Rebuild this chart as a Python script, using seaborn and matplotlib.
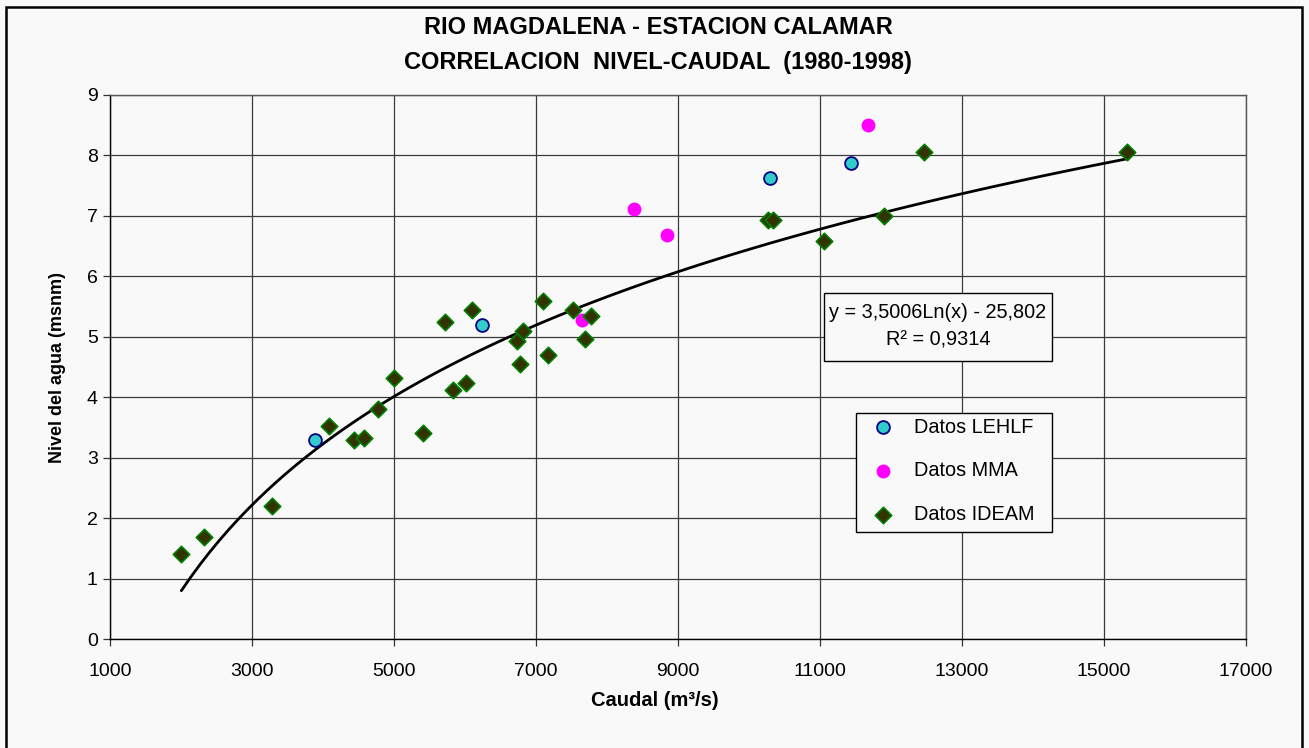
import numpy as np
import pandas as pd
import seaborn as sns
import matplotlib.pyplot as plt
from matplotlib.patches import Rectangle

# Datos IDEAM (caudal m3/s, nivel msnm)
ideam_q = [2000, 2320, 3280, 4080, 4430, 4570, 4770, 5000, 5400, 5720, 5830, 6010, 6100, 6730,
           6770, 6820, 7100, 7160, 7520, 7690, 7770, 10260, 10340, 11060, 11900, 12460, 15320]
ideam_h = [1.40, 1.68, 2.20, 3.52, 3.30, 3.32, 3.80, 4.32, 3.40, 5.24, 4.12, 4.24, 5.45, 4.93,
           4.55, 5.10, 5.60, 4.70, 5.45, 4.96, 5.35, 6.94, 6.94, 6.58, 7.00, 8.06, 8.06]

# Datos LEHLF
lehlf_q = [3880, 6240, 10300, 11440]
lehlf_h = [3.30, 5.20, 7.62, 7.87]

# Datos MMA
mma_q = [7650, 8380, 8840, 11680]
mma_h = [5.28, 7.12, 6.68, 8.50]

x_ticks = [1000, 3000, 5000, 7000, 9000, 11000, 13000, 15000, 17000]
y_ticks = [0, 1, 2, 3, 4, 5, 6, 7, 8, 9]

eq_text = 'y = 3,5006Ln(x) - 25,802\nR\u00b2 = 0,9314'

sns.set_style('white')
plt.rcParams['font.family'] = ['Liberation Sans', 'DejaVu Sans']
plt.rcParams['text.color'] = 'black'
plt.rcParams['xtick.color'] = 'black'
plt.rcParams['ytick.color'] = 'black'

bg = '#f9f9f9'
W, H = 1309, 748
fig = plt.figure(figsize=(13.09, 7.48), dpi=100, facecolor=bg)
ax = fig.add_axes([0.0843, 0.1457, 0.8676, 0.7273])
ax.set_facecolor(bg)

# linea de tendencia logaritmica (ajuste sobre datos IDEAM)
df_ideam = pd.DataFrame({'caudal': ideam_q, 'nivel': ideam_h})
sns.regplot(data=df_ideam, x='caudal', y='nivel', logx=True, ci=None, scatter=False,
            truncate=True, line_kws=dict(color='black', lw=2.0, zorder=2), ax=ax)

sns.scatterplot(x=lehlf_q, y=lehlf_h, marker='o', s=85, color='#33cccc', edgecolor='#000080',
                linewidth=1.3, label='Datos LEHLF', ax=ax, zorder=3)
sns.scatterplot(x=mma_q, y=mma_h, marker='o', s=100, color='#ff00ff', edgecolor='#ff00ff',
                linewidth=0, label='Datos MMA', ax=ax, zorder=3)
sns.scatterplot(x=ideam_q, y=ideam_h, marker='D', s=70, color='#333300', edgecolor='#008000',
                linewidth=1.2, label='Datos IDEAM', ax=ax, zorder=4)

ax.set_xlim(1000, 17000)
ax.set_ylim(0, 9)
ax.set_xticks(x_ticks)
ax.set_yticks(y_ticks)
ax.grid(True, color='#3a3a3a', lw=0.9)
ax.set_axisbelow(True)
for s in ax.spines.values():
    s.set_color('#555555')
    s.set_linewidth(1.0)
ax.spines['left'].set_color('black')
ax.spines['bottom'].set_color('black')
ax.tick_params(axis='both', direction='out', length=5, width=0.9, color='#333333',
               labelsize=14, left=True, bottom=True)
ax.tick_params(axis='x', pad=12)
ax.tick_params(axis='y', pad=4)
ax.set_xlabel('')
ax.set_ylabel('')

# cuadro de la ecuacion de la tendencia
ax.add_patch(Rectangle((824 / W, 1 - 361 / H), 228 / W, 68 / H, transform=fig.transFigure,
                       facecolor=bg, edgecolor='black', lw=1.0, zorder=5, clip_on=False))
ax.text(938 / W, 1 - 326 / H, eq_text, transform=fig.transFigure, ha='center', va='center',
        fontsize=14.3, linespacing=1.6, zorder=6)

# cuadro de la leyenda
ax.add_patch(Rectangle((856 / W, 1 - 532 / H), 196 / W, 119 / H, transform=fig.transFigure,
                       facecolor=bg, edgecolor='black', lw=1.0, zorder=5, clip_on=False))
leg = ax.legend(loc='upper left', bbox_to_anchor=(856 / W, 1 - 410 / H),
                bbox_transform=fig.transFigure, frameon=False, fontsize=14.3,
                labelspacing=1.25, handletextpad=0.55, borderpad=0.38, borderaxespad=0,
                handlelength=2.0)
leg.set_zorder(7)

fig.text(0.503, 1 - 28 / H, 'RIO MAGDALENA - ESTACION CALAMAR', ha='center', va='center',
         fontsize=17, fontweight='bold')
fig.text(0.503, 1 - 62 / H, 'CORRELACION  NIVEL-CAUDAL  (1980-1998)', ha='center',
         va='center', fontsize=17, fontweight='bold')
fig.text(57 / W, 0.1457 + 0.7273 / 2, 'Nivel del agua (msnm)', rotation=90, ha='center',
         va='center', fontsize=13, fontweight='bold')
fig.text(0.5, 1 - 701 / H, 'Caudal (m\u00b3/s)', ha='center', va='center',
         fontsize=14.5, fontweight='bold')

# marco exterior del grafico
fig.patches.append(Rectangle((6 / W, -0.05), 1296 / W, 1.05 - 7 / H,
                             transform=fig.transFigure, fill=False, edgecolor='black',
                             lw=1.8, clip_on=False))

fig.savefig('out.png', dpi=100, facecolor=bg)
